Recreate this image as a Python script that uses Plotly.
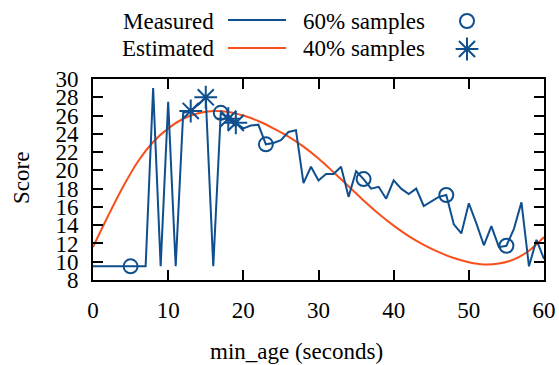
import plotly.graph_objects as go

# ---- data ----
age = list(range(0, 61))
measured = [9.5, 9.5, 9.5, 9.5, 9.5, 9.5, 9.5, 9.5, 29.0, 9.5,
            27.5, 9.5, 26.3, 26.5, 27.2, 28.0, 9.5, 26.3, 25.65, 25.2,
            24.6, 24.9, 25.0, 22.85, 23.0, 23.3, 24.2, 24.4, 18.6, 20.4,
            18.9, 19.6, 19.6, 20.4, 17.1, 19.9, 19.05, 18.0, 18.2, 16.9,
            18.9, 18.0, 17.4, 18.0, 16.1, 16.6, 17.1, 17.3, 14.1, 13.1,
            16.4, 14.2, 11.8, 13.9, 11.6, 11.75, 13.6, 16.5, 9.5, 12.4,
            10.3]
est_age = list(range(0, 61, 2))
estimated = [11.6, 15.0, 18.2, 21.0, 23.1, 24.6, 25.65, 26.25, 26.5, 26.4,
             26.0, 25.4, 24.6, 23.7, 22.6, 21.3, 19.8, 18.25, 16.7, 15.25,
             13.95, 12.8, 11.85, 11.05, 10.4, 9.95, 9.7, 9.8, 10.25, 11.2,
             12.7]
samples60 = [5, 17, 23, 36, 47, 55]
samples40 = [13, 15, 18, 19]
x_ticks = [0, 10, 20, 30, 40, 50, 60]
y_ticks = list(range(8, 31, 2))

BLUE = "#0f4f8e"
RED = "#f8501c"
FONT = "Liberation Serif"
W, H = 559, 365

fig = go.Figure()
fig.add_trace(go.Scatter(x=est_age, y=estimated, mode="lines",
                         line=dict(color=RED, width=2, shape="spline", smoothing=1.0),
                         showlegend=False))
fig.add_trace(go.Scatter(x=age, y=measured, mode="lines",
                         line=dict(color=BLUE, width=2), showlegend=False))
fig.add_trace(go.Scatter(x=samples60, y=[measured[age.index(a)] for a in samples60],
                         mode="markers",
                         marker=dict(symbol="circle-open", size=14, color=BLUE,
                                     line=dict(width=2, color=BLUE)),
                         showlegend=False))
fig.add_trace(go.Scatter(x=samples40, y=[measured[age.index(a)] for a in samples40],
                         mode="markers",
                         marker=dict(symbol="asterisk-open", size=19, color=BLUE,
                                     line=dict(width=2, color=BLUE)),
                         showlegend=False))

# ---- key (pixel-space overlay) ----
fig.add_trace(go.Scatter(x=[228, 286], y=[20, 20], mode="lines", xaxis="x2", yaxis="y2",
                         line=dict(color=BLUE, width=2), showlegend=False))
fig.add_trace(go.Scatter(x=[228, 286], y=[48, 48], mode="lines", xaxis="x2", yaxis="y2",
                         line=dict(color=RED, width=2), showlegend=False))
fig.add_trace(go.Scatter(x=[467], y=[21], mode="markers", xaxis="x2", yaxis="y2",
                         marker=dict(symbol="circle-open", size=14, color=BLUE,
                                     line=dict(width=2, color=BLUE)), showlegend=False))
fig.add_trace(go.Scatter(x=[467], y=[49], mode="markers", xaxis="x2", yaxis="y2",
                         marker=dict(symbol="asterisk-open", size=19, color=BLUE,
                                     line=dict(width=2, color=BLUE)), showlegend=False))

annots = []
for txt, x, y, xa in [("Measured", 216, 21, "right"), ("Estimated", 216, 48, "right"),
                      ("60% samples", 427, 21, "right"), ("40% samples", 427, 48, "right")]:
    annots.append(dict(text=txt, x=x, y=y, xref="x2", yref="y2", xanchor=xa,
                       yanchor="middle", showarrow=False,
                       font=dict(family=FONT, size=23, color="black")))
annots.append(dict(text="min_age (seconds)", x=296, y=351, xref="x2", yref="y2",
                   xanchor="center", yanchor="middle", showarrow=False,
                   font=dict(family=FONT, size=23, color="black")))
annots.append(dict(text="Score", x=21, y=178, xref="x2", yref="y2", textangle=-90,
                   xanchor="center", yanchor="middle", showarrow=False,
                   font=dict(family=FONT, size=23, color="black")))

x0, x1, y0, y1 = 93, 544, 79, 280
fig.update_layout(
    width=W, height=H,
    margin=dict(l=0, r=0, t=0, b=0, pad=0),
    paper_bgcolor="white", plot_bgcolor="rgba(0,0,0,0)",
    font=dict(family=FONT, size=23, color="black"),
    annotations=annots,
    xaxis=dict(domain=[x0 / W, x1 / W], range=[0, 60], tickvals=x_ticks,
               ticks="inside", ticklen=10, tickwidth=1.5, tickcolor="black",
               showline=True, linewidth=2, linecolor="black", mirror="allticks",
               showgrid=False, zeroline=False, automargin=False,
               ticklabelstandoff=8, tickfont=dict(family=FONT, size=23)),
    yaxis=dict(domain=[(H - y1) / H, (H - y0) / H], range=[8, 30], tickvals=y_ticks,
               ticks="inside", ticklen=10, tickwidth=1.5, tickcolor="black",
               showline=True, linewidth=2, linecolor="black", mirror="allticks",
               showgrid=False, zeroline=False, automargin=False,
               ticklabelstandoff=8, tickfont=dict(family=FONT, size=23)),
    xaxis2=dict(domain=[0, 1], range=[0, W], visible=False, anchor="y2",
                fixedrange=True),
    yaxis2=dict(domain=[0, 1], range=[H, 0], visible=False, anchor="x2",
                fixedrange=True),
)

fig.write_html("out.html")
